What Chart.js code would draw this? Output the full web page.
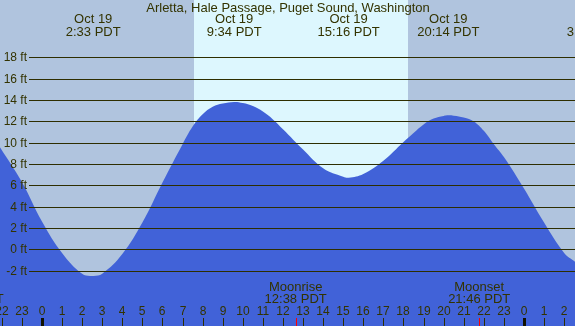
<!DOCTYPE html>
<html>
<head>
<meta charset="utf-8">
<script src="https://cdn.jsdelivr.net/npm/chart.js@4/dist/chart.umd.min.js"></script>
<style>
  body { margin: 0; background: #b0c4de; }
  #wrap { width: 575px; height: 326px; }
</style>
</head>
<body>
<div id="wrap"><canvas id="tideChart" width="575" height="326"></canvas></div>
<script>
// Tide heights (ft), hours relative to Oct 19 00:00 PDT
const tideHours = [-2.09, -1, 0, 1, 2, 2.55, 3, 4, 5, 6, 7, 7.5, 8, 8.5, 9, 9.57, 10, 10.5, 11, 11.5, 12, 13, 14, 15, 15.27,
  16, 17, 18, 18.5, 19, 19.5, 20, 20.23, 20.5, 21, 21.5, 22, 22.5, 23, 24, 25, 26, 26.54];
const tideFeet = [9.56, 6.3, 2.6, -0.35, -2.3, -2.5, -2.3, -0.45, 2.5, 6.25, 9.85, 11.5, 12.65, 13.35, 13.65, 13.8, 13.7, 13.42, 12.9, 12.17, 11.25, 9.35, 7.6, 6.8, 6.7,
  7.05, 8.3, 10.05, 10.9, 11.7, 12.25, 12.5, 12.56, 12.52, 12.35, 11.98, 11.1, 9.85, 8.65, 5.7, 2.5, -0.35, -1.16];

const yTicks = [-2, 0, 2, 4, 6, 8, 10, 12, 14, 16, 18];
const hourLabels = ['22', '23', '0', '1', '2', '3', '4', '5', '6', '7', '8', '9', '10', '11', '12',
  '13', '14', '15', '16', '17', '18', '19', '20', '21', '22', '23', '0', '1', '2'];
const firstHour = -2;

// high / low tide events at the top
const eventTimes = [2.55, 9.57, 15.27, 20.23, 27.5];
const eventDates = ['Oct 19', 'Oct 19', 'Oct 19', 'Oct 19', 'Oct 20'];
const eventClock = ['2:33 PDT', '9:34 PDT', '15:16 PDT', '20:14 PDT', '3:30 PDT'];

// moon rise / set
const moonTimes = [-3.45, 12.63, 21.77];
const moonNames = ['Moonset', 'Moonrise', 'Moonset'];
const moonClock = ['20:33 PDT', '12:38 PDT', '21:46 PDT'];

const sunrise = 7.57, sunset = 18.23;

const TEXT = '#333300';
const FONT = '"Liberation Sans", Arial, sans-serif';

const decorPlugin = {
  id: 'decor',
  beforeDatasetsDraw(chart) {
    const ctx = chart.ctx, x = chart.scales.x;
    ctx.save();
    ctx.fillStyle = '#b0c4de';
    ctx.fillRect(0, 0, chart.width, chart.height);
    ctx.fillStyle = '#ddf7fe';
    const x0 = Math.round(x.getPixelForValue(sunrise));
    const x1 = Math.round(x.getPixelForValue(sunset));
    ctx.fillRect(x0, 0, x1 - x0, chart.height);
    ctx.restore();
  },
  afterDatasetsDraw(chart) {
    const ctx = chart.ctx, x = chart.scales.x, y = chart.scales.y;
    ctx.save();
    // grid lines and y labels
    ctx.strokeStyle = '#2e2e00';
    ctx.lineWidth = 1;
    ctx.fillStyle = TEXT;
    ctx.font = '12px ' + FONT;
    ctx.textAlign = 'right';
    ctx.textBaseline = 'middle';
    yTicks.forEach(v => {
      const py = Math.round(y.getPixelForValue(v)) + 0.5;
      ctx.beginPath();
      ctx.moveTo(29, py);
      ctx.lineTo(chart.width, py);
      ctx.stroke();
      ctx.fillText(v + ' ft', 27, py);
    });

    // title and tide events
    ctx.textAlign = 'center';
    ctx.font = '13px ' + FONT;
    ctx.fillText('Arletta, Hale Passage, Puget Sound, Washington', 288, 8);
    eventTimes.forEach((t, i) => {
      const px = x.getPixelForValue(t);
      ctx.fillText(eventDates[i], px, 19.5);
      ctx.fillText(eventClock[i], px, 32);
    });

    // moon labels
    moonTimes.forEach((t, i) => {
      const px = x.getPixelForValue(t);
      ctx.fillText(moonNames[i], px, 287.5);
      ctx.fillText(moonClock[i], px, 299.5);
    });

    // hour labels and ticks
    ctx.font = '12px ' + FONT;
    hourLabels.forEach((lab, i) => {
      const px = Math.round(x.getPixelForValue(firstHour + i));
      ctx.fillStyle = TEXT;
      ctx.fillText(lab, px, 312);
      if (lab === '0') {
        ctx.fillStyle = '#111100';
        ctx.fillRect(px - 1, 318, 3, 8);
      } else {
        ctx.fillStyle = '#2e2e00';
        ctx.fillRect(px, 318, 1, 8);
      }
    });
    ctx.fillStyle = '#ff0000';
    moonTimes.forEach(t => {
      const px = Math.round(x.getPixelForValue(t));
      ctx.fillRect(px, 318, 1, 8);
    });
    ctx.restore();
  }
};

document.addEventListener('DOMContentLoaded', () => {
  const ctx = document.getElementById('tideChart').getContext('2d');
  new Chart(ctx, {
    type: 'line',
    data: {
      datasets: [{
        data: tideHours.map((h, i) => ({ x: h, y: tideFeet[i] })),
        fill: 'start',
        backgroundColor: '#4162d8',
        borderWidth: 0,
        pointRadius: 0,
        tension: 0.4
      }]
    },
    options: {
      responsive: false,
      animation: false,
      layout: { padding: 0 },
      plugins: { legend: { display: false }, tooltip: { enabled: false } },
      scales: {
        x: { type: 'linear', min: -2.09, max: 26.54, display: false },
        y: { min: -7.19, max: 23.36, display: false }
      }
    },
    plugins: [decorPlugin]
  });
});
</script>
</body>
</html>
